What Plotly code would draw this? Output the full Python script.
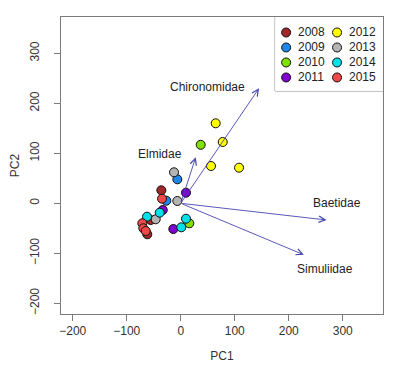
import plotly.graph_objects as go

# ---- data ----
years = ["2008", "2009", "2010", "2011", "2012", "2013", "2014", "2015"]
year_colors = ["#A02828", "#1E88E8", "#80E000", "#8000D0",
               "#FFFF00", "#B4B4B4", "#00E0E8", "#F04848"]

point_year = (["2008"] * 3 + ["2009"] * 2 + ["2010"] * 2 + ["2011"] * 3 +
              ["2012"] * 4 + ["2013"] * 3 + ["2014"] * 4 + ["2015"] * 4)
pc1 = [-35.9, -55.6, -61.9,
       -6.3, -26.7,
       37.0, 15.9,
       9.8, -33.3, -13.7,
       64.8, 77.8, 56.1, 108.0,
       -12.4, -6.3, -46.3,
       -38.9, -62.4, 9.8, 1.1,
       -34.6, -71.1, -69.3, -64.8]
pc2 = [26.0, -33.4, -62.0,
       48.0, 5.2,
       117.0, -40.0,
       21.2, -13.4, -51.4,
       160.0, 122.6, 74.6, 71.2,
       62.0, 4.6, -32.0,
       -18.8, -26.8, -30.8, -48.0,
       9.2, -40.0, -50.0, -55.4]

taxa = ["Chironomidae", "Elmidae", "Baetidae", "Simuliidae"]
load_x = [145.0, 27.8, 270.0, 228.0]
load_y = [230.0, 92.0, -33.4, -103.0]
label_x = [49.3, -38.9, 289.8, 267.2]
label_y = [233.2, 98.6, 0.0, -132.0]

x_ticks = [-200, -100, 0, 100, 200, 300]
y_ticks = [-200, -100, 0, 100, 200, 300]

FONT = "Arial, Liberation Sans, sans-serif"
TXT = "#333333"
FRAME = "#7a7a7a"
ARROW = "#4545B0"

fig = go.Figure()

# points, one trace per year (drawn in year order)
for yr, col in zip(years, year_colors):
    xs = [x for x, g in zip(pc1, point_year) if g == yr]
    ys = [y for y, g in zip(pc2, point_year) if g == yr]
    fig.add_trace(go.Scatter(
        x=xs, y=ys, mode="markers", name=yr, showlegend=False,
        marker=dict(size=9, color=col, line=dict(color="#111111", width=1)),
        hoverinfo="skip"))

annotations = []
# loading arrows and labels
for name, lx, ly, tx, ty in zip(taxa, load_x, load_y, label_x, label_y):
    annotations.append(dict(
        x=lx, y=ly, ax=0, ay=0, xref="x", yref="y", axref="x", ayref="y",
        text="", showarrow=True, arrowhead=5, arrowsize=1.4, arrowwidth=0.9,
        arrowcolor=ARROW, standoff=0, startstandoff=0))
    annotations.append(dict(
        x=tx, y=ty, xref="x", yref="y", text=name, showarrow=False,
        xanchor="center", yanchor="middle",
        font=dict(family=FONT, size=12, color="#222222")))

# legend drawn in an inset axis (2 columns x 4 rows)
leg_col = [i // 4 for i in range(len(years))]
leg_row = [i % 4 for i in range(len(years))]
fig.add_trace(go.Scatter(
    x=leg_col, y=leg_row, mode="markers", xaxis="x2", yaxis="y2",
    showlegend=False, hoverinfo="skip",
    marker=dict(size=9, color=year_colors, line=dict(color="#111111", width=1))))
for yr, c, r in zip(years, leg_col, leg_row):
    annotations.append(dict(
        x=c + 0.2, y=r, xref="x2", yref="y2", text=yr, showarrow=False,
        xanchor="left", yanchor="middle",
        font=dict(family=FONT, size=12, color="#222222")))

leg_x0, leg_y0 = 0.665, 0.751
shapes = [dict(type="rect", xref="paper", yref="paper",
               x0=leg_x0, y0=leg_y0, x1=1, y1=1,
               line=dict(color=FRAME, width=1), fillcolor="white", layer="below")]

axis_common = dict(showgrid=False, zeroline=False, showline=True, mirror=True,
                   linecolor=FRAME, linewidth=1, ticks="outside", ticklen=6,
                   tickcolor=FRAME, tickwidth=1, automargin=False,
                   tickfont=dict(family=FONT, size=12, color=TXT))

# the page body has an 8px default margin, so the figure is sized to fit
fig.update_layout(
    width=392, height=370,
    margin=dict(l=53, r=17, t=9, b=64),
    paper_bgcolor="white", plot_bgcolor="white",
    showlegend=False,
    xaxis=dict(range=[-221.7, 374.6], tickvals=x_ticks,
               title=dict(text="PC1", font=dict(family=FONT, size=12, color=TXT), standoff=14),
               **axis_common),
    yaxis=dict(range=[-221.4, 372.6], tickvals=y_ticks, tickangle=-90,
               ticklabelstandoff=10,
               title=dict(text="PC2", font=dict(family=FONT, size=12, color=TXT), standoff=7),
               **axis_common),
    xaxis2=dict(domain=[leg_x0, 1], range=[-0.216, 1.902], visible=False,
                anchor="y2", fixedrange=True, automargin=False),
    yaxis2=dict(domain=[leg_y0, 1], range=[3.9, -1.033], visible=False,
                anchor="x2", fixedrange=True, automargin=False),
    annotations=annotations,
    shapes=shapes,
)

fig.write_html("out.html")
